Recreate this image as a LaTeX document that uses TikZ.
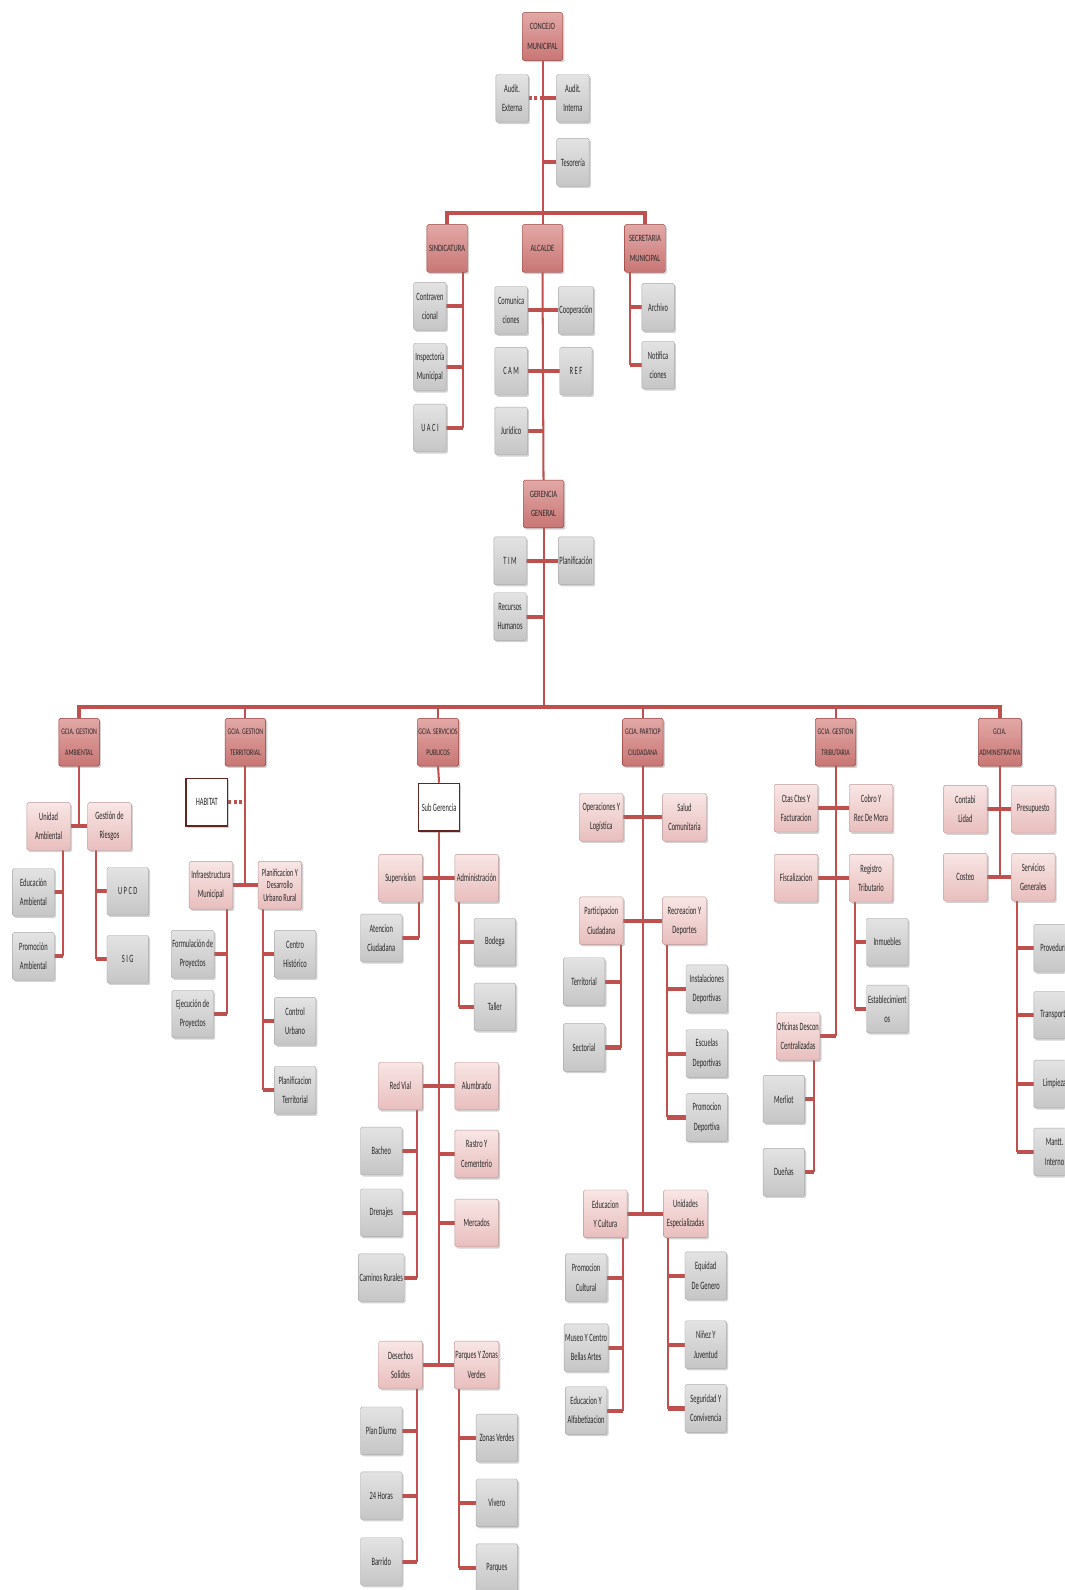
\documentclass[tikz,border=0pt]{standalone}
\usepackage{fontspec}
\setmainfont{Carlito}[FakeStretch=0.58]
\newfontfamily\dkfont{Carlito}[FakeStretch=0.68]
\usetikzlibrary{shadows,calc}
\pgfdeclarelayer{bg}
\pgfsetlayers{bg,main}
\definecolor{lnred}{RGB}{192,80,77}
\definecolor{dkedge}{RGB}{149,55,53}
\definecolor{dktop}{RGB}{226,168,166}
\definecolor{dkbot}{RGB}{200,118,116}
\definecolor{lptop}{RGB}{248,230,229}
\definecolor{lpbot}{RGB}{232,190,189}
\definecolor{gyedge}{RGB}{170,170,170}
\definecolor{wedge}{RGB}{99,37,35}
\definecolor{txt}{RGB}{40,40,40}
\tikzset{
  x=1pt, y=-1pt,
  basebox/.style={minimum height=47pt, inner sep=1pt, align=center, rounded corners=1.5pt, text=txt,
    drop shadow={shadow xshift=1.6pt, shadow yshift=-1.8pt, opacity=0.35},
    font=\fontsize{11}{19}\selectfont},
  gbox/.style={basebox, minimum width=41pt, draw=gyedge, top color=gray!22, middle color=white, bottom color=gray!45},
  gsm/.style={gbox, minimum width=32pt},
  pbox/.style={basebox, minimum width=43pt, draw=lpbot!80!black, top color=lptop, middle color=lptop!60!white, bottom color=lpbot},
  dbox/.style={basebox, minimum width=40pt, draw=dkedge, top color=dktop, bottom color=dkbot,
    font=\dkfont\fontsize{9.5}{19}\selectfont},
  gcia/.style={dbox, font=\dkfont\fontsize{8.5}{21}\selectfont},
  wbox/.style={basebox, minimum width=41pt, fill=white, draw=wedge, line width=1.2pt, rounded corners=0pt},
  vl/.style={draw=lnred, line width=2pt},
  hl/.style={draw=lnred, line width=4pt},
  bus/.style={draw=lnred, line width=4pt},
  dsh/.style={hl, dash pattern=on 3pt off 2.5pt},
}
\begin{document}
\begin{tikzpicture}
\useasboundingbox (0,0) rectangle (1050,1568);
\begin{pgfonlayer}{bg}
\fill[white] (0,0) rectangle (1050,1568);
\end{pgfonlayer}
\clip (0,0) rectangle (1050,1568);

% ---------- top ----------
\node[dbox] (concejo) at (535,36) {CONCEJO\\MUNICIPAL};
\node[gsm] (aext) at (505,97) {Audit.\\Externa};
\node[gsm] (aint) at (565,97) {Audit.\\Interna};
\node[gsm] (teso) at (565,160) {Tesorería};
\node[dbox] (sind) at (441,245) {SINDICATURA};
\node[dbox] (alc) at (535,245) {ALCALDE};
\node[dbox] (secr) at (636,245) {SECRETARIA\\MUNICIPAL};
\node[gsm] (contra) at (424,302) {Contraven\\cional};
\node[gsm] (insp) at (424,362) {Inspectoría\\Municipal};
\node[gsm] (uaci) at (424,422) {U A C I};
\node[gsm] (comu) at (504,306) {Comunica\\ciones};
\node[gsm] (cam) at (504,366) {C A M};
\node[gsm] (jur) at (504,425) {Jurídico};
\node[gsm] (coop) at (568,306) {Cooperación};
\node[gsm] (ref) at (568,366) {R E F};
\node[gsm] (arch) at (649,303) {Archivo};
\node[gsm] (notif) at (649,360) {Notifica\\ciones};
\node[dbox] (ger) at (536,497) {GERENCIA\\GENERAL};
\node[gsm] (tim) at (503,553) {T I M};
\node[gsm] (planif) at (568,553) {Planificación};
\node[gsm] (rrhh) at (503,608) {Recursos\\Humanos};

% ---------- gerencias ----------
\node[gcia] (gamb) at (78,732) {GCIA. GESTION\\AMBIENTAL};
\node[gcia] (gter) at (242,732) {GCIA. GESTION\\TERRITORIAL};
\node[gcia] (gserv) at (432,732) {GCIA. SERVICIOS\\PUBLICOS};
\node[gcia] (gpart) at (634,732) {GCIA. PARTICIP\\CIUDADANA};
\node[gcia] (gtrib) at (824,732) {GCIA. GESTION\\TRIBUTARIA};
\node[gcia] (gadm) at (986,732) {GCIA.\\ADMINISTRATIVA};

% ambiental
\node[pbox] (unid) at (48,815) {Unidad\\Ambiental};
\node[pbox] (gesr) at (108,815) {Gestión de\\Riesgos};
\node[gbox] (eduA) at (33,880) {Educación\\Ambiental};
\node[gbox] (promA) at (33,943) {Promoción\\Ambiental};
\node[gbox] (upcd) at (126,879) {U P C D};
\node[gbox] (sig) at (126,946) {S I G};

% territorial
\node[wbox] (habitat) at (204,791) {HABITAT};
\node[pbox] (infra) at (208,873) {Infraestructura\\Municipal};
\node[pbox, font=\fontsize{10.5}{12.5}\selectfont] (planU) at (276,873) {Planificacion Y\\Desarrollo\\Urbano Rural};
\node[gbox] (formul) at (190,941) {Formulación de\\Proyectos};
\node[gbox] (ejec) at (190,1000) {Ejecución de\\Proyectos};
\node[gbox] (centro) at (291,941) {Centro\\Histórico};
\node[gbox] (control) at (291,1007) {Control\\Urbano};
\node[gbox] (planT) at (291,1075) {Planificacion\\Territorial};

% servicios publicos
\node[wbox] (subg) at (433,796) {Sub Gerencia};
\node[pbox] (sup) at (395,866) {Supervision};
\node[pbox] (adm) at (470,866) {Administración};
\node[gbox] (aten) at (376,925) {Atencion\\Ciudadana};
\node[gbox] (bodega) at (488,929) {Bodega};
\node[gbox] (taller) at (488,993) {Taller};
\node[pbox] (redv) at (395,1071) {Red Vial};
\node[pbox] (alum) at (470,1071) {Alumbrado};
\node[gbox] (bach) at (376,1135) {Bacheo};
\node[gbox] (dren) at (376,1196) {Drenajes};
\node[gbox] (camin) at (376,1260) {Caminos Rurales};
\node[pbox] (rastro) at (470,1138) {Rastro Y\\Cementerio};
\node[pbox] (merc) at (470,1206) {Mercados};
\node[pbox] (desech) at (395,1346) {Desechos\\Solidos};
\node[pbox] (parq) at (470,1346) {Parques Y Zonas\\Verdes};
\node[gbox] (pland) at (376,1411) {Plan Diurno};
\node[gbox] (h24) at (376,1475) {24 Horas};
\node[gbox] (barr) at (376,1540) {Barrido};
\node[gbox] (zonas) at (490,1418) {Zonas Verdes};
\node[gbox] (vivero) at (490,1482) {Vivero};
\node[gbox] (parques) at (490,1546) {Parques};

% participacion ciudadana
\node[pbox] (ops) at (593,806) {Operaciones Y\\Logística};
\node[pbox] (salud) at (675,806) {Salud\\Comunitaria};
\node[pbox] (partC) at (593,908) {Participacion\\Ciudadana};
\node[pbox] (recr) at (675,908) {Recreacion Y\\Deportes};
\node[gbox] (terr) at (576,968) {Territorial};
\node[gbox] (sect) at (576,1033) {Sectorial};
\node[gbox] (inst) at (697,975) {Instalaciones\\Deportivas};
\node[gbox] (escu) at (697,1039) {Escuelas\\Deportivas};
\node[gbox] (promD) at (697,1102) {Promocion\\Deportiva};
\node[pbox] (educ) at (597,1197) {Educacion\\Y Cultura};
\node[pbox] (unide) at (676,1197) {Unidades\\Especializadas};
\node[gbox] (promC) at (578,1260) {Promocion\\Cultural};
\node[gbox] (museo) at (578,1329) {Museo Y Centro\\Bellas Artes};
\node[gbox] (alfab) at (578,1391) {Educacion Y\\Alfabetizacion};
\node[gbox] (equid) at (696,1258) {Equidad\\De Genero};
\node[gbox] (ninez) at (696,1326) {Niñez Y\\Juventud};
\node[gbox] (segur) at (696,1389) {Seguridad Y\\Convivencia};

% tributaria
\node[pbox] (ctas) at (785,797) {Ctas Ctes Y\\Facturacion};
\node[pbox] (cobro) at (859,797) {Cobro Y\\Rec De Mora};
\node[pbox] (fisc) at (785,866) {Fiscalizacion};
\node[pbox] (regt) at (859,866) {Registro\\Tributario};
\node[gbox] (inmu) at (875,929) {Inmuebles};
\node[gbox] (estab) at (875,995) {Establecimient\\os};
\node[pbox] (ofic) at (787,1022) {Oficinas Descon\\Centralizadas};
\node[gbox] (merl) at (773,1084) {Merliot};
\node[gbox] (duen) at (773,1156) {Dueñas};

% administrativa
\node[pbox] (contab) at (952,798) {Contabi\\Lidad};
\node[pbox] (presu) at (1019,798) {Presupuesto};
\node[pbox] (costeo) at (952,865) {Costeo};
\node[pbox] (servg) at (1019,865) {Servicios\\Generales};
\node[gbox] (prov) at (1040,935) {Proveduría};
\node[gbox] (transp) at (1040,1001) {Transporte};
\node[gbox] (limp) at (1040,1069) {Limpieza};
\node[gbox] (mantt) at (1040,1136) {Mantt.\\Interno};

% ---------- connectors ----------
\begin{pgfonlayer}{bg}
% top
\coordinate (b1) at (535,210);
\draw[vl] (concejo.south) -- (alc.north);
\draw[dsh] (aext.east) -- (aext.east -| concejo.south);
\draw[hl] (aint.west) -- (aint.west -| concejo.south);
\draw[hl] (teso.west) -- (teso.west -| concejo.south);
\draw[bus] (sind.north) -- (sind.north |- b1) -- (secr.north |- b1) -- (secr.north);
% sindicatura
\coordinate (sv) at ([xshift=16pt]sind.south);
\draw[vl] (sv) -- (sv |- uaci.east);
\foreach \n in {contra,insp,uaci} \draw[hl] (\n.east) -- (\n.east -| sv);
% alcalde
\draw[vl] (alc.south) -- (ger.north);
\foreach \n in {comu,cam,jur} \draw[hl] (\n.east) -- (\n.east -| alc.south);
\foreach \n in {coop,ref} \draw[hl] (\n.west) -- (\n.west -| alc.south);
% secretaria
\coordinate (secv) at ([xshift=-15pt]secr.south);
\draw[vl] (secv) -- (secv |- notif.west);
\foreach \n in {arch,notif} \draw[hl] (\n.west) -- (\n.west -| secv);
% gerencia
\coordinate (b2) at (536,697);
\draw[vl] (ger.south) -- (b2);
\draw[hl] (tim.east) -- (tim.east -| ger.south);
\draw[hl] (rrhh.east) -- (rrhh.east -| ger.south);
\draw[hl] (planif.west) -- (planif.west -| ger.south);
\draw[bus] (gamb.north) -- (gamb.north |- b2) -- (gadm.north |- b2) -- (gadm.north);
\foreach \n in {gter,gserv,gpart,gtrib} \draw[vl] (\n.north) -- (\n.north |- b2);

% ambiental
\draw[vl] (gamb.south) -- (gamb.south |- unid.east);
\draw[hl] (unid.east) -- (gesr.west);
\coordinate (uv) at ([xshift=14pt]unid.south);
\draw[vl] (uv) -- (uv |- promA.east);
\foreach \n in {eduA,promA} \draw[hl] (\n.east) -- (\n.east -| uv);
\coordinate (grv) at ([xshift=-13pt]gesr.south);
\draw[vl] (grv) -- (grv |- sig.west);
\foreach \n in {upcd,sig} \draw[hl] (\n.west) -- (\n.west -| grv);

% territorial
\draw[vl] (gter.south) -- (gter.south |- infra.east);
\draw[dsh] (habitat.east) -- (habitat.east -| gter.south);
\draw[hl] (infra.east) -- (planU.west);
\coordinate (iv) at ([xshift=16pt]infra.south);
\draw[vl] (iv) -- (iv |- ejec.east);
\foreach \n in {formul,ejec} \draw[hl] (\n.east) -- (\n.east -| iv);
\coordinate (pv) at ([xshift=-17pt]planU.south);
\draw[vl] (pv) -- (pv |- planT.west);
\foreach \n in {centro,control,planT} \draw[hl] (\n.west) -- (\n.west -| pv);

% servicios publicos
\draw[vl] (gserv.south) -- (subg.north);
\draw[vl] (subg.south) -- (subg.south |- desech.east);
\draw[hl] (sup.east) -- (adm.west);
\draw[hl] (redv.east) -- (alum.west);
\draw[hl] (desech.east) -- (parq.west);
\foreach \n in {rastro,merc} \draw[hl] (\n.west) -- (\n.west -| subg.south);
\coordinate (supv) at ([xshift=18pt]sup.south);
\draw[vl] (supv) -- (supv |- aten.east);
\draw[hl] (aten.east) -- (aten.east -| supv);
\coordinate (admv) at ([xshift=-17pt]adm.south);
\draw[vl] (admv) -- (admv |- taller.west);
\foreach \n in {bodega,taller} \draw[hl] (\n.west) -- (\n.west -| admv);
\coordinate (rvv) at ([xshift=16pt]redv.south);
\draw[vl] (rvv) -- (rvv |- camin.east);
\foreach \n in {bach,dren,camin} \draw[hl] (\n.east) -- (\n.east -| rvv);
\coordinate (dsv) at ([xshift=16pt]desech.south);
\draw[vl] (dsv) -- (dsv |- barr.east);
\foreach \n in {pland,h24,barr} \draw[hl] (\n.east) -- (\n.east -| dsv);
\coordinate (pqv) at ([xshift=-17pt]parq.south);
\draw[vl] (pqv) -- (pqv |- parques.west);
\foreach \n in {zonas,vivero,parques} \draw[hl] (\n.west) -- (\n.west -| pqv);

% participacion ciudadana
\draw[vl] (gpart.south) -- (gpart.south |- educ.east);
\draw[hl] (ops.east) -- (salud.west);
\draw[hl] (partC.east) -- (recr.west);
\draw[hl] (educ.east) -- (unide.west);
\coordinate (pcv) at ([xshift=19pt]partC.south);
\draw[vl] (pcv) -- (pcv |- sect.east);
\foreach \n in {terr,sect} \draw[hl] (\n.east) -- (\n.east -| pcv);
\coordinate (rcv) at ([xshift=-17pt]recr.south);
\draw[vl] (rcv) -- (rcv |- promD.west);
\foreach \n in {inst,escu,promD} \draw[hl] (\n.west) -- (\n.west -| rcv);
\coordinate (ecv) at ([xshift=17pt]educ.south);
\draw[vl] (ecv) -- (ecv |- alfab.east);
\foreach \n in {promC,museo,alfab} \draw[hl] (\n.east) -- (\n.east -| ecv);
\coordinate (uev) at ([xshift=-17pt]unide.south);
\draw[vl] (uev) -- (uev |- segur.west);
\foreach \n in {equid,ninez,segur} \draw[hl] (\n.west) -- (\n.west -| uev);

% tributaria
\draw[vl] (gtrib.south) -- (gtrib.south |- ofic.east);
\draw[hl] (ctas.east) -- (cobro.west);
\draw[hl] (fisc.east) -- (regt.west);
\draw[hl] (ofic.east) -- (ofic.east -| gtrib.south);
\coordinate (rtv) at ([xshift=-16pt]regt.south);
\draw[vl] (rtv) -- (rtv |- estab.west);
\foreach \n in {inmu,estab} \draw[hl] (\n.west) -- (\n.west -| rtv);
\coordinate (ofv) at ([xshift=16pt]ofic.south);
\draw[vl] (ofv) -- (ofv |- duen.east);
\foreach \n in {merl,duen} \draw[hl] (\n.east) -- (\n.east -| ofv);

% administrativa
\draw[vl] (gadm.south) -- (gadm.south |- costeo.east);
\draw[hl] (contab.east) -- (presu.west);
\draw[hl] (costeo.east) -- (servg.west);
\coordinate (sgv) at ([xshift=-16pt]servg.south);
\draw[vl] (sgv) -- (sgv |- mantt.west);
\foreach \n in {prov,transp,limp,mantt} \draw[hl] (\n.west) -- (\n.west -| sgv);
\end{pgfonlayer}
\end{tikzpicture}
\end{document}
